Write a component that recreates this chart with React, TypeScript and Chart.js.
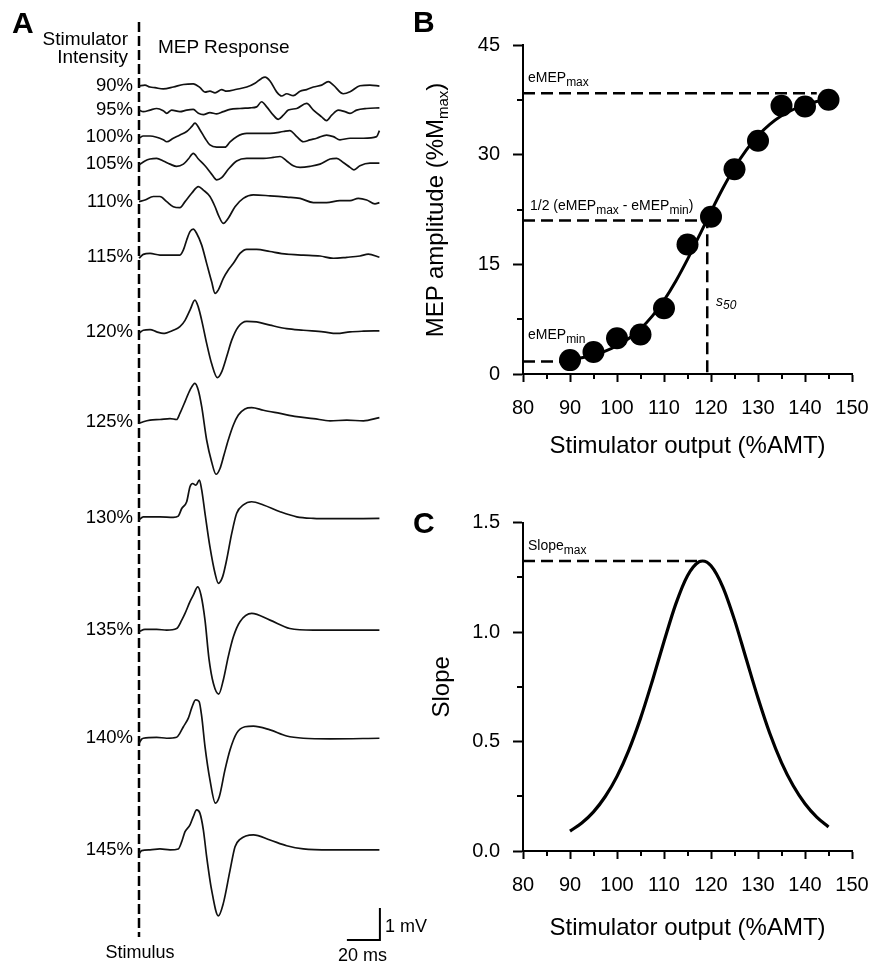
import React, { useEffect, useRef } from 'react';
import { Chart, registerables } from 'chart.js';

Chart.register(...registerables);

const FONT = '"Liberation Sans", Arial, Helvetica, sans-serif';
Chart.defaults.font.family = FONT;
Chart.defaults.color = '#000';

// ---------------- Panel A : MEP traces ----------------
const INTENSITY_LABELS = ['90%', '95%', '100%', '105%', '110%', '115%', '120%', '125%', '130%', '135%', '140%', '145%'];
// vertical placement of each trace baseline (mV below the top of the panel)
const TRACE_OFFSETS_MV = [-2.69, -3.44, -4.27, -5.13, -6.3, -8.02, -10.37, -13.18, -16.2, -19.69, -23.07, -26.56];

// each trace: [time after stimulus (ms), amplitude (mV)]
const TRACE_90 = [[0, 0], [3.6, 0.03], [6.7, -0.03], [9.7, -0.05], [14.7, -0.09], [20.8, -0.03], [26.9, 0.05], [32.9, 0.07], [37, -0.05], [40, -0.19], [43, -0.16], [46.1, -0.21], [50.1, -0.11], [53.1, -0.16], [59.2, -0.1], [65.3, -0.03], [70.3, 0.09], [74.3, 0.24], [76.4, 0.28], [79.4, 0.16], [83.4, -0.18], [86.5, -0.31], [89.5, -0.24], [93.5, -0.3], [97.6, -0.16], [101.6, -0.11], [105.7, -0.03], [110.7, 0.03], [114.7, 0.14], [117.8, 0.03], [123.8, -0.24], [127.9, -0.18], [133.9, 0.01], [140, 0.03], [145.7, 0]];
const TRACE_95 = [[0, 0], [2.6, -0.05], [6.7, 0], [10.7, 0.05], [14.7, -0.02], [16.8, -0.1], [19.8, 0], [24.8, -0.05], [28.9, 0], [32.9, 0.02], [36, -0.1], [39, -0.14], [43, -0.08], [47.1, -0.12], [51.1, -0.05], [55.2, 0.02], [61.2, 0.05], [67.3, 0.07], [71.3, 0.1], [74.3, 0.26], [77.4, 0.1], [81.4, -0.16], [84.4, -0.29], [87.5, -0.16], [90.5, 0], [95.6, 0.05], [101.6, 0.21], [105.7, 0], [110.7, -0.21], [113.7, -0.33], [116.8, -0.16], [120.8, 0], [124.8, -0.05], [127.9, -0.1], [131.9, 0], [138, 0.05], [145.7, 0.07]];
const TRACE_100 = [[0, -0.05], [2.6, 0.02], [6.7, 0.02], [10.7, -0.02], [14.7, -0.1], [16.8, -0.16], [20.8, -0.05], [24.8, 0.05], [28.9, 0.16], [31.9, 0.31], [33.9, 0.42], [37, 0.21], [40, -0.05], [43, -0.26], [47.1, -0.33], [52.1, -0.33], [55.2, -0.16], [59.2, 0], [65.3, 0.1], [71.3, 0.1], [79.4, 0.1], [87.5, 0.16], [91.4, 0.19], [95.6, 0], [99.6, -0.16], [103.6, -0.1], [107.7, -0.05], [113.7, 0.05], [117.8, 0], [121.8, -0.1], [127.9, -0.05], [136, -0.05], [144, 0], [145.7, 0.19]];
const TRACE_105 = [[0, -0.03], [3.6, 0.1], [6.7, 0.16], [10.7, 0.18], [14.7, 0.1], [18.8, 0], [22.8, -0.07], [26.9, 0], [29.9, 0.16], [32.9, 0.34], [36, 0.16], [40, -0.05], [44, -0.31], [47.1, -0.49], [50.1, -0.42], [54.1, -0.16], [59.2, 0.1], [65.3, 0.18], [75.4, 0.18], [81.4, 0.21], [85.5, 0.24], [89.5, 0.1], [93.5, -0.05], [97.6, -0.1], [103.6, -0.07], [109.7, 0], [115.8, 0.16], [119.8, 0.18], [123.8, 0.05], [127.9, -0.1], [130.3, -0.18], [133.9, -0.05], [140, 0.03], [145.7, 0.03]];
const TRACE_110 = [[0, 0], [3.6, 0.05], [8.7, 0.16], [12.7, 0.16], [16.8, 0], [20.8, -0.16], [24.8, -0.19], [27.9, 0], [31.9, 0.26], [36, 0.47], [39, 0.36], [43, 0.16], [46.1, -0.16], [48.1, -0.42], [51.1, -0.68], [54.1, -0.52], [58.2, -0.16], [63.2, 0.1], [69.3, 0.21], [79.4, 0.18], [89.5, 0.14], [97.6, 0.1], [105.7, -0.03], [113.7, -0.03], [121.8, 0.03], [127.9, 0.03], [132.9, 0.1], [138, 0.05], [143, -0.07], [145.7, -0.03]];
const TRACE_115 = [[0, -0.05], [2.6, 0.07], [6.7, 0.1], [12.7, 0.05], [18.8, 0.05], [24.8, 0.05], [26.9, 0.21], [28.9, 0.52], [30.9, 0.78], [32.9, 0.86], [34.9, 0.73], [38, 0.36], [41, -0.21], [44, -0.78], [46.1, -1.15], [48.1, -1.04], [51.1, -0.68], [54.1, -0.42], [57.2, -0.21], [61.2, 0.1], [65.3, 0.23], [71.3, 0.23], [79.4, 0.16], [89.5, 0.08], [99.6, 0.05], [109.7, 0.02], [117.8, -0.05], [125.9, -0.02], [133.9, 0.02], [139, 0.08], [145.7, -0.02]];
const TRACE_120 = [[0, -0.05], [2.6, 0.05], [6.7, 0.07], [10.7, 0], [14.7, -0.05], [20.8, 0.05], [24.8, 0.16], [27.9, 0.36], [30.9, 0.68], [33.9, 0.99], [35.9, 0.78], [38, 0.36], [41, -0.36], [44, -0.99], [47.5, -1.43], [50.1, -1.25], [53.1, -0.78], [56.2, -0.26], [60.2, 0.16], [65.3, 0.33], [71.3, 0.31], [79.4, 0.21], [89.5, 0.1], [99.6, 0.05], [111.7, 0], [119.8, -0.05], [127.9, 0], [136, 0.02], [145.7, 0.03]];
const TRACE_125 = [[0, -0.05], [2.6, 0], [6.7, 0.05], [12.7, 0.07], [18.8, 0.1], [22.8, 0.07], [24.8, 0.26], [27.9, 0.63], [30.9, 0.99], [33.9, 1.2], [35.9, 0.99], [38, 0.47], [41, -0.57], [44, -1.25], [46.7, -1.64], [49.1, -1.46], [51.5, -1.04], [54.1, -0.57], [57.2, -0.1], [60.2, 0.21], [64.2, 0.4], [68.3, 0.44], [75.4, 0.36], [85.5, 0.26], [95.6, 0.16], [105.7, 0.1], [115.8, 0.03], [125.9, 0.05], [136, 0.03], [145.7, 0.13]];
const TRACE_130 = [[0, -0.05], [2.6, 0.05], [6.7, 0.05], [12.7, 0.05], [20.8, 0.03], [23.8, 0.07], [25.9, 0.31], [28.9, 0.52], [30.9, 0.99], [32.5, 1.09], [34.5, 1.04], [36.6, 1.2], [38, 0.89], [40, 0.16], [43, -0.89], [46.1, -1.72], [48.1, -2.03], [50.7, -1.82], [53.1, -1.3], [56.2, -0.47], [59.2, 0.16], [63.2, 0.42], [68.3, 0.52], [75.4, 0.42], [85.5, 0.21], [95.6, 0.05], [105.7, 0], [115.8, -0.01], [145.7, 0]];
const TRACE_135 = [[0, -0.05], [3.6, 0.02], [10.7, 0.02], [16.8, 0], [22.8, 0.05], [25.9, 0.31], [27.9, 0.52], [30.9, 0.89], [32.9, 1.09], [35.6, 1.35], [37.6, 1.09], [40, 0.31], [42.4, -0.89], [45.1, -1.67], [48.3, -2.0], [51.1, -1.56], [54.1, -0.83], [57.2, -0.21], [61.2, 0.26], [68.3, 0.52], [79.4, 0.31], [91.4, 0.05], [105.7, 0], [145.7, 0]];
const TRACE_140 = [[0, -0.16], [1.6, -0.03], [2.6, 0], [10.7, 0.03], [16.8, 0], [22.8, 0.03], [24.8, 0.16], [26.9, 0.36], [29.9, 0.63], [31.9, 0.94], [34.3, 1.2], [36.4, 1.15], [38, 0.68], [40, -0.26], [43, -1.3], [46.3, -2.03], [48.7, -1.82], [52.1, -0.99], [55.2, -0.36], [59.2, 0.16], [64.2, 0.36], [69.3, 0.38], [79.4, 0.26], [89.5, 0.07], [99.6, 0], [115.8, -0.02], [145.7, 0]];
const TRACE_145 = [[0, -0.13], [1.6, -0.02], [6.7, 0], [12.7, 0.03], [18.8, 0], [23.8, 0.03], [25.9, 0.26], [27.9, 0.57], [30.9, 0.78], [32.9, 1.04], [34.9, 1.25], [36.9, 1.15], [39, 0.63], [41, -0.21], [44, -1.25], [48.1, -2.06], [51.1, -1.67], [55.2, -0.63], [58.2, 0.1], [61.2, 0.33], [69.3, 0.47], [79.4, 0.31], [89.5, 0.13], [99.6, 0.03], [115.8, 0], [145.7, 0]];
const TRACES = [TRACE_90, TRACE_95, TRACE_100, TRACE_105, TRACE_110, TRACE_115, TRACE_120, TRACE_125, TRACE_130, TRACE_135, TRACE_140, TRACE_145];

const STIMULUS_LINE_MV = [-0.69, -29.28];
const SCALE_BAR_MS = 20;
const SCALE_BAR_MV = 1;
const SCALE_BAR_END_MS = 146;
const SCALE_BAR_BASE_MV = -29.375;

// ---------------- Panel B : recruitment curve ----------------
const STIM_OUTPUT = [90, 95, 100, 105, 110, 115, 120, 125, 130, 135, 140, 145];
const MEP_AMPLITUDE = [1.9, 3.0, 4.9, 5.4, 9.0, 17.7, 21.5, 28.0, 31.9, 36.7, 36.6, 37.5];
const CURVE_X = [90, 92.5, 95, 97.5, 100, 102.5, 105, 107.5, 110, 112.5, 115, 117.5, 120, 122.5, 125, 127.5, 130, 132.5, 135, 137.5, 140, 142.5, 145];
const FIT_Y = [1.95, 2.22, 2.6, 3.13, 3.87, 4.86, 6.19, 7.91, 10.08, 12.69, 15.68, 18.92, 22.22, 25.37, 28.21, 30.63, 32.6, 34.14, 35.31, 36.18, 36.82, 37.28, 37.61];
const EMEP_MAX = 38.4;
const EMEP_MAX_END = 142.5;
const HALF_LEVEL = 21.0;
const S50 = 119.2;
const EMEP_MIN = 1.7;
const EMEP_MIN_END = 88.5;

// ---------------- Panel C : slope ----------------
const SLOPE_X = [90, 92.5, 95, 97.5, 100, 102.5, 105, 107.5, 110, 112.5, 115, 117.5, 118.2, 120, 122.5, 125, 127.5, 130, 132.5, 135, 137.5, 140, 142.5, 145];
const SLOPE_Y = [0.091, 0.128, 0.179, 0.249, 0.341, 0.46, 0.606, 0.776, 0.957, 1.128, 1.258, 1.322, 1.325, 1.303, 1.207, 1.056, 0.877, 0.699, 0.538, 0.404, 0.298, 0.216, 0.155, 0.11];
const SLOPE_MAX = 1.325;
const SLOPE_MAX_X = 118.2;

const X_MAJOR = { min: 80, max: 150, step: 10 };
const X_MINOR = [85, 95, 105, 115, 125, 135, 145];
const B_Y_MINOR = [7.5, 22.5, 37.5];
const C_Y_MINOR = [0.25, 0.75, 1.25];

function minorTicks(xVals: number[], yVals: number[], xLen: number, yLen: number) {
  return {
    id: 'minorTicks',
    afterDraw(chart: any) {
      const { ctx, chartArea } = chart;
      const xs = chart.scales.x;
      const ys = chart.scales.y;
      ctx.save();
      ctx.strokeStyle = '#000';
      ctx.lineWidth = 2;
      xVals.forEach((v) => {
        const p = Math.round(xs.getPixelForValue(v));
        ctx.beginPath();
        ctx.moveTo(p, chartArea.bottom);
        ctx.lineTo(p, chartArea.bottom + xLen);
        ctx.stroke();
      });
      yVals.forEach((v) => {
        const p = Math.round(ys.getPixelForValue(v));
        ctx.beginPath();
        ctx.moveTo(chartArea.left, p);
        ctx.lineTo(chartArea.left - yLen, p);
        ctx.stroke();
      });
      ctx.restore();
    },
  };
}

const dashed = (pts: { x: number; y: number }[]) => ({
  data: pts,
  borderColor: '#000',
  borderWidth: 2.5,
  borderDash: [12, 6],
  pointRadius: 0,
  fill: false,
});

const baseOptions = {
  animation: false as const,
  responsive: false,
  maintainAspectRatio: false,
  events: [] as any[],
  plugins: { legend: { display: false }, tooltip: { enabled: false } },
};

function xAxis(height: number, titleBottom: number) {
  return {
    type: 'linear' as const,
    min: X_MAJOR.min,
    max: X_MAJOR.max,
    ticks: { stepSize: X_MAJOR.step, font: { size: 20 }, color: '#000', padding: 14 },
    grid: { drawOnChartArea: false, drawTicks: true, tickLength: 8, tickWidth: 2, color: '#000' },
    border: { color: '#000', width: 2 },
    title: { display: true, text: 'Stimulator output (%AMT)', font: { size: 24 }, color: '#000', padding: { top: 0, bottom: titleBottom } },
    afterFit: (s: any) => {
      s.height = height;
      s.paddingLeft = 0;
      s.paddingRight = 0;
    },
  };
}

function makePanelA(): any {
  const datasets: any[] = TRACES.map((tr, i) => ({
    data: tr.map(([t, v]) => ({ x: t, y: TRACE_OFFSETS_MV[i] + v })),
    borderColor: '#111',
    borderWidth: 1.7,
    pointRadius: 0,
    cubicInterpolationMode: 'monotone',
    clip: false,
  }));
  datasets.push({
    data: STIMULUS_LINE_MV.map((v) => ({ x: 0, y: v })),
    borderColor: '#000',
    borderWidth: 2.5,
    borderDash: [10, 4],
    pointRadius: 0,
    clip: false,
  });
  datasets.push({
    data: [
      { x: SCALE_BAR_END_MS - SCALE_BAR_MS, y: SCALE_BAR_BASE_MV },
      { x: SCALE_BAR_END_MS, y: SCALE_BAR_BASE_MV },
      { x: SCALE_BAR_END_MS, y: SCALE_BAR_BASE_MV + SCALE_BAR_MV },
    ],
    borderColor: '#000',
    borderWidth: 2,
    pointRadius: 0,
    clip: false,
  });
  return {
    type: 'line',
    data: { datasets },
    options: {
      ...baseOptions,
      layout: { padding: 0, autoPadding: false },
      scales: {
        x: { type: 'linear', display: false, min: 0, max: 281 / 1.65 },
        y: {
          type: 'linear',
          min: -963 / 32,
          max: 0,
          afterBuildTicks: (s: any) => {
            s.ticks = TRACE_OFFSETS_MV.map((v) => ({ value: v }));
          },
          afterFit: (s: any) => {
            s.width = 139;
            s.paddingTop = 0;
            s.paddingBottom = 0;
          },
          ticks: {
            autoSkip: false,
            padding: 6,
            font: { size: 18.5 },
            color: '#000',
            callback: (_v: any, i: number) => INTENSITY_LABELS[i],
          },
          grid: { display: false, drawTicks: false },
          border: { display: false },
        },
      },
    },
  };
}

function makePanelB(): any {
  return {
    type: 'line',
    data: {
      datasets: [
        {
          data: STIM_OUTPUT.map((x, i) => ({ x, y: MEP_AMPLITUDE[i] })),
          showLine: false,
          pointRadius: 11,
          pointBorderWidth: 0,
          pointBackgroundColor: '#000',
          borderColor: '#000',
        },
        {
          data: CURVE_X.map((x, i) => ({ x, y: FIT_Y[i] })),
          borderColor: '#000',
          borderWidth: 3,
          pointRadius: 0,
          cubicInterpolationMode: 'monotone',
        },
        dashed([{ x: X_MAJOR.min, y: EMEP_MAX }, { x: EMEP_MAX_END, y: EMEP_MAX }]),
        dashed([{ x: X_MAJOR.min, y: HALF_LEVEL }, { x: S50, y: HALF_LEVEL }, { x: S50, y: 0 }]),
        dashed([{ x: X_MAJOR.min, y: EMEP_MIN }, { x: EMEP_MIN_END, y: EMEP_MIN }]),
      ],
    },
    options: {
      ...baseOptions,
      layout: { padding: { top: 45, right: 20, left: 0, bottom: 0 }, autoPadding: false },
      scales: {
        x: xAxis(106, 19),
        y: {
          type: 'linear',
          min: 0,
          max: 45,
          ticks: { stepSize: 15, font: { size: 20 }, color: '#000', padding: 13 },
          grid: { drawOnChartArea: false, drawTicks: true, tickLength: 10, tickWidth: 2, color: '#000' },
          border: { color: '#000', width: 2 },
          afterFit: (s: any) => {
            s.width = 103;
            s.paddingTop = 0;
            s.paddingBottom = 0;
          },
        },
      },
    },
    plugins: [minorTicks(X_MINOR, B_Y_MINOR, 5, 6)],
  };
}

function makePanelC(): any {
  return {
    type: 'line',
    data: {
      datasets: [
        {
          data: SLOPE_X.map((x, i) => ({ x, y: SLOPE_Y[i] })),
          borderColor: '#000',
          borderWidth: 3.2,
          pointRadius: 0,
          cubicInterpolationMode: 'monotone',
        },
        dashed([{ x: X_MAJOR.min, y: SLOPE_MAX }, { x: SLOPE_MAX_X, y: SLOPE_MAX }]),
      ],
    },
    options: {
      ...baseOptions,
      layout: { padding: { top: 42.7, right: 20, left: 0, bottom: 0 }, autoPadding: false },
      scales: {
        x: xAxis(112, 20),
        y: {
          type: 'linear',
          min: 0,
          max: 1.5,
          ticks: { stepSize: 0.5, font: { size: 20 }, color: '#000', padding: 13, callback: (v: any) => Number(v).toFixed(1) },
          grid: { drawOnChartArea: false, drawTicks: true, tickLength: 10, tickWidth: 2, color: '#000' },
          border: { color: '#000', width: 2 },
          title: { display: true, text: 'Slope', font: { size: 24 }, color: '#000', padding: { top: 8, bottom: 0 } },
          afterFit: (s: any) => {
            s.width = 103;
            s.paddingTop = 0;
            s.paddingBottom = 0;
          },
        },
      },
    },
    plugins: [minorTicks(X_MINOR, C_Y_MINOR, 5, 6)],
  };
}

function ChartCanvas({ make, left, top, width, height }: any) {
  const ref = useRef<HTMLCanvasElement | null>(null);
  useEffect(() => {
    if (!ref.current) return;
    const c = new Chart(ref.current, make());
    return () => c.destroy();
  }, []);
  return (
    <canvas
      ref={ref}
      width={width}
      height={height}
      style={{ position: 'absolute', left, top, width, height, display: 'block' }}
    />
  );
}

function Txt({ left, baseline, size, children, bold, italic, width, align }: any) {
  return (
    <div
      style={{
        position: 'absolute',
        left,
        top: baseline - 0.8465 * size,
        fontSize: size,
        lineHeight: `${size}px`,
        whiteSpace: 'nowrap',
        fontWeight: bold ? 'bold' : 'normal',
        fontStyle: italic ? 'italic' : 'normal',
        width,
        textAlign: align || 'left',
        color: '#000',
      }}
    >
      {children}
    </div>
  );
}

const Sub = ({ children, size = 12, drop = 4 }: any) => (
  <sub style={{ fontSize: size, verticalAlign: -drop, lineHeight: 0 }}>{children}</sub>
);

export default function App() {
  return (
    <div
      style={{
        position: 'absolute',
        left: 0,
        top: 0,
        width: 872,
        height: 963,
        overflow: 'hidden',
        background: '#fff',
        fontFamily: FONT,
      }}
    >
      <ChartCanvas make={makePanelA} left={0} top={0} width={420} height={963} />
      <ChartCanvas make={makePanelB} left={420} top={0} width={452} height={480} />
      <ChartCanvas make={makePanelC} left={420} top={480} width={452} height={483} />

      {/* Panel A texts */}
      <Txt left={12} baseline={33} size={30} bold>A</Txt>
      <Txt left={0} width={128} align="right" baseline={45} size={19}>Stimulator</Txt>
      <Txt left={0} width={128} align="right" baseline={63.3} size={19}>Intensity</Txt>
      <Txt left={158} baseline={53.3} size={19}>MEP Response</Txt>
      <Txt left={80} width={120} align="center" baseline={958.3} size={18}>Stimulus</Txt>
      <Txt left={385} baseline={932} size={18}>1 mV</Txt>
      <Txt left={338} baseline={961} size={18}>20 ms</Txt>

      {/* Panel B texts */}
      <Txt left={413} baseline={32} size={30} bold>B</Txt>
      <div
        style={{
          position: 'absolute',
          left: 435,
          top: 210,
          transform: 'translate(-50%, -50%) rotate(-90deg)',
          fontSize: 24,
          lineHeight: '24px',
          whiteSpace: 'nowrap',
          color: '#000',
        }}
      >
        MEP amplitude (%M<Sub size={15} drop={5}>max</Sub>)
      </div>
      <Txt left={528} baseline={81.7} size={14}>eMEP<Sub>max</Sub></Txt>
      <Txt left={530} baseline={210} size={14}>
        1/2 (eMEP<Sub>max</Sub> - eMEP<Sub>min</Sub>)
      </Txt>
      <Txt left={528} baseline={339.3} size={14}>eMEP<Sub>min</Sub></Txt>
      <Txt left={716} baseline={306} size={14} italic>s<Sub drop={3}>50</Sub></Txt>

      {/* Panel C texts */}
      <Txt left={413} baseline={533} size={30} bold>C</Txt>
      <Txt left={528} baseline={550} size={14}>Slope<Sub>max</Sub></Txt>
    </div>
  );
}
